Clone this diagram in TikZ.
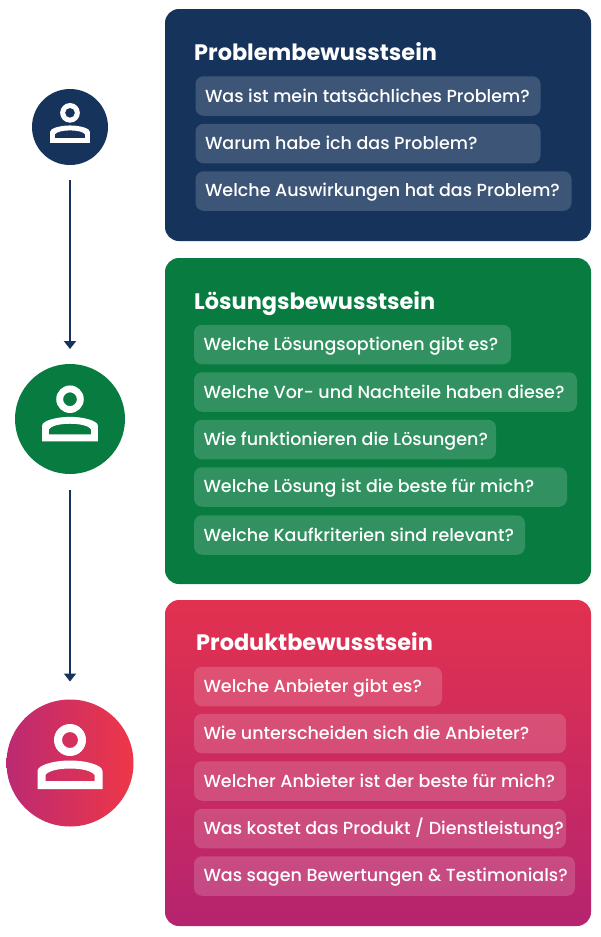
\documentclass[tikz,border=0pt]{standalone}
\usepackage{fontspec}
\setmainfont{Poppins}
\newfontfamily\pillfont{Poppins Medium}
\usetikzlibrary{arrows.meta}
\definecolor{navy}{HTML}{16335B}
\definecolor{grn}{HTML}{087B40}
\definecolor{redtop}{HTML}{E2314F}
\definecolor{redbot}{HTML}{B5246F}
\definecolor{redl}{HTML}{BB2A72}
\definecolor{redr}{HTML}{EE3748}
\tikzset{
  panel/.style={rounded corners=14pt,inner sep=0pt,outer sep=0pt,anchor=north west,draw=none},
  pill/.style={fill=white,fill opacity=.17,text opacity=1,text=white,rounded corners=8pt,inner ysep=0pt,inner xsep=9.5pt,outer sep=0pt,anchor=west,minimum height=39.5pt,font=\pillfont\fontsize{17.5}{20}\selectfont},
  head/.style={text=white,font=\fontsize{22.4}{25}\selectfont\bfseries,anchor=base west,inner sep=0pt},
  disc/.style={circle,inner sep=0pt,outer sep=0pt,draw=none},
  flow/.style={navy,line width=2.5pt,-{Triangle[width=12pt,length=8pt]}},
  person/.pic={
    \fill[white,even odd rule] (0,-23) circle (16) (0,-23) circle (8)
      (-32.5,26) -- (-32.5,8) .. controls (-32.5,2) and (-16,-2.5) .. (0,-2.5) .. controls (16,-2.5) and (32.5,2) .. (32.5,8) -- (32.5,26) -- cycle
      (-24.5,18) -- (-24.5,12) .. controls (-22,8) and (-12,5.5) .. (0,5.5) .. controls (12,5.5) and (22,8) .. (24.5,12) -- (24.5,18) -- cycle;
  }
}
\newcommand{\pillrow}[5]{\node[pill] (#1) at (#2,#4) {\rule[-4pt]{0pt}{20pt}\makebox[\dimexpr#3pt-19pt\relax][l]{#5}};}
\begin{document}
\begin{tikzpicture}[x=1pt,y=-1pt]
\useasboundingbox (0,0) rectangle (600,937);
\fill[white] (0,0) rectangle (600,937);
% panels
\node[panel,fill=navy,minimum width=426pt,minimum height=232pt] (p1) at (165,9) {};
\node[panel,fill=grn,minimum width=426pt,minimum height=326pt] (p2) at (165,258) {};
\node[panel,top color=redtop,bottom color=redbot,minimum width=426pt,minimum height=326pt] (p3) at (165,600) {};
% headings
\node[head] (h1) at (194,60) {Problembewusstsein};
\node[head] (h2) at (194,309) {Lösungsbewusstsein};
\node[head] (h3) at (196,650) {Produktbewusstsein};
% pills
\pillrow{a1}{195.5}{345}{96}{Was ist mein tatsächliches Problem?}
\pillrow{a2}{195.5}{345}{143.5}{Warum habe ich das Problem?}
\pillrow{a3}{195.5}{376}{191}{Welche Auswirkungen hat das Problem?}
\pillrow{b1}{194}{317}{344.5}{Welche Lösungsoptionen gibt es?}
\pillrow{b2}{194}{383}{392}{Welche Vor- und Nachteile haben diese?}
\pillrow{b3}{194}{302}{439.5}{Wie funktionieren die Lösungen?}
\pillrow{b4}{194}{373}{487}{Welche Lösung ist die beste für mich?}
\pillrow{b5}{194}{331}{535}{Welche Kaufkriterien sind relevant?}
\pillrow{c1}{194}{248}{686.5}{Welche Anbieter gibt es?}
\pillrow{c2}{194}{372}{733.5}{Wie unterscheiden sich die Anbieter?}
\pillrow{c3}{194}{372}{781}{Welcher Anbieter ist der beste für mich?}
\pillrow{c4}{194}{372}{828.5}{Was kostet das Produkt / Dienstleistung?}
\pillrow{c5}{194}{381}{876}{Was sagen Bewertungen \& Testimonials?}
% discs
\node[disc,fill=navy,minimum size=76pt] (d1) at (70,127) {};
\node[disc,fill=grn,minimum size=110pt] (d2) at (70,419) {};
\node[disc,left color=redl,right color=redr,minimum size=127pt] (d3) at (70,763) {};
\pic[scale=.615] at (d1) {person};
\pic[scale=.86] at (d2) {person};
\pic at (d3) {person};
% arrows
\draw[flow,shorten <=15pt,shorten >=15pt] (d1) -- (d2);
\draw[flow,shorten <=16pt,shorten >=18pt] (d2) -- (d3);
\end{tikzpicture}
\end{document}
